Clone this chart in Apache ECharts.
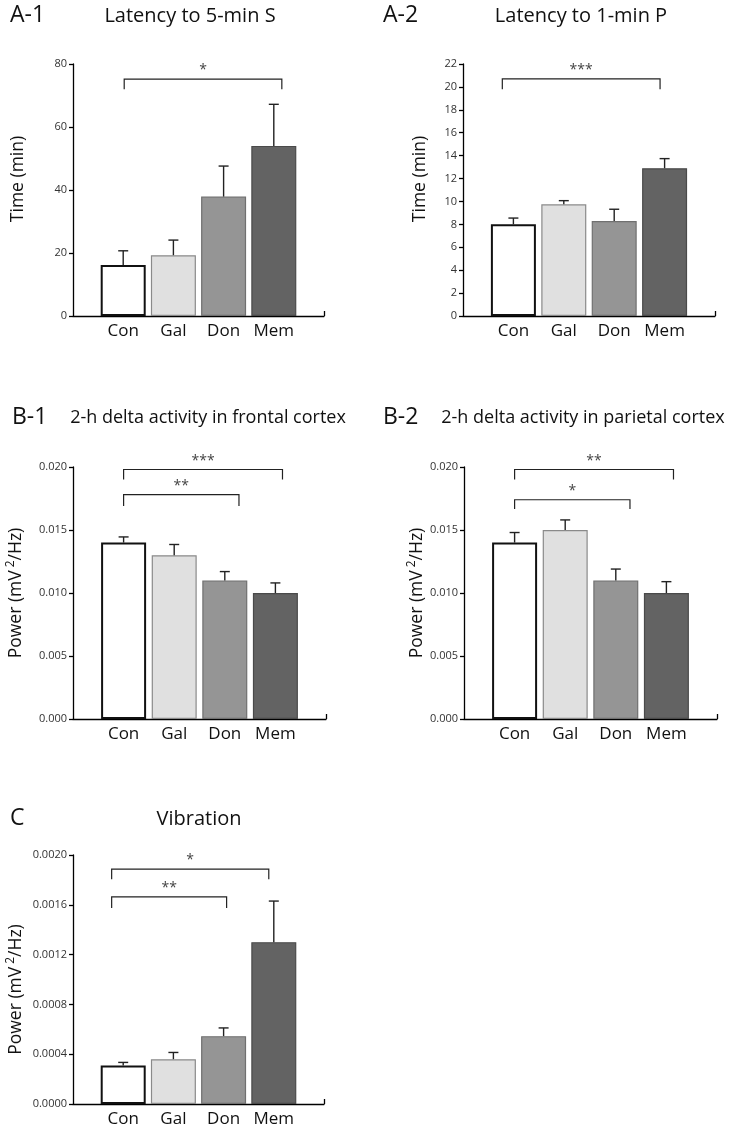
<!DOCTYPE html>
<html>
<head>
<meta charset="utf-8">
<script src="https://cdn.jsdelivr.net/npm/echarts@6/dist/echarts.min.js"></script>
<style>
  html, body { margin: 0; padding: 0; background: #fff; }
  #main { width: 731px; height: 1128px; }
</style>
</head>
<body>
<div id="main"></div>
<script>
const cats = ['Con', 'Gal', 'Don', 'Mem'];

// A-1 latency to 5-min S (min)
const a1Mean = [16.2, 19.3, 37.9, 54.0];
const a1Sem = [4.5, 4.8, 9.7, 13.2];
const a1Sig = [[0.02, 3.16, 75.2, 72.0]];
const a1Stars = ['*'];

// A-2 latency to 1-min P (min)
const a2Mean = [8.0, 9.75, 8.3, 12.9];
const a2Sem = [0.55, 0.32, 1.02, 0.84];
const a2Sig = [[-0.22, 2.91, 20.7, 19.8]];
const a2Stars = ['***'];

// B-1 frontal cortex delta power
const b1Mean = [0.0140, 0.0130, 0.0110, 0.0100];
const b1Sem = [0.00045, 0.00085, 0.0007, 0.0008];
const b1Sig = [[0.0, 3.14, 0.0198, 0.0190], [0.0, 2.28, 0.0178, 0.0169]];
const b1Stars = ['***', '**'];

// B-2 parietal cortex delta power
const b2Mean = [0.0140, 0.0150, 0.0110, 0.0100];
const b2Sem = [0.0008, 0.0008, 0.0009, 0.0009];
const b2Sig = [[0.0, 3.14, 0.0198, 0.0190], [0.0, 2.28, 0.0174, 0.01666]];
const b2Stars = ['**', '*'];

// C vibration
const cMean = [0.00031, 0.00036, 0.000545, 0.0013];
const cSem = [0.000024, 0.000054, 0.000066, 0.00033];
const cSig = [[-0.23, 2.90, 0.001886, 0.001806], [-0.23, 2.06, 0.001663, 0.001575]];
const cStars = ['*', '**'];

const barFill = ['#ffffff', '#e0e0e0', '#959595', '#636363'];
const barLine = ['#111111', '#8a8a8a', '#707070', '#4a4a4a'];
const barLineW = [2, 1.2, 1.2, 1.2];
const FONT = 'Open Sans';

const powerName = 'Power (mV{sup|2}/Hz)';

// namePad shifts the rotated axis name along the axis (left pad = up, right pad = down)
const panels = [
  { grid: { left: 73, top: 64, width: 251, height: 252 }, mean: a1Mean, sem: a1Sem, sig: a1Sig, stars: a1Stars,
    max: 80, interval: 20, digits: 0, name: 'Time (min)', nameGap: 46, namePad: [0, 0, 0, 22] },
  { grid: { left: 463, top: 64, width: 252, height: 252 }, mean: a2Mean, sem: a2Sem, sig: a2Sig, stars: a2Stars,
    max: 22, interval: 2, digits: 0, name: 'Time (min)', nameGap: 34, namePad: [0, 0, 0, 22] },
  { grid: { left: 73, top: 467, width: 253, height: 252 }, mean: b1Mean, sem: b1Sem, sig: b1Sig, stars: b1Stars,
    max: 0.02, interval: 0.005, digits: 3, name: powerName, nameGap: 46, namePad: [0, 0, 0, 0] },
  { grid: { left: 464, top: 467, width: 253, height: 252 }, mean: b2Mean, sem: b2Sem, sig: b2Sig, stars: b2Stars,
    max: 0.02, interval: 0.005, digits: 3, name: powerName, nameGap: 35, namePad: [0, 0, 0, 0] },
  { grid: { left: 73, top: 855, width: 251, height: 251 }, mean: cMean, sem: cSem, sig: cSig, stars: cStars,
    max: 0.002, interval: 0.0004, digits: 4, name: powerName, nameGap: 46, namePad: [0, 20, 0, 0] }
];

const headings = [
  { tag: 'A-1', tagX: 10, text: 'Latency to 5-min S', textX: 190, y: 15, size: 20 },
  { tag: 'A-2', tagX: 383, text: 'Latency to 1-min P', textX: 581, y: 15, size: 20 },
  { tag: 'B-1', tagX: 12, text: '2-h delta activity in frontal cortex', textX: 208, y: 417, size: 18 },
  { tag: 'B-2', tagX: 383, text: '2-h delta activity in parietal cortex', textX: 583, y: 417, size: 18 },
  { tag: 'C', tagX: 10, text: 'Vibration', textX: 199, y: 818, size: 20 }
];

function renderErr(params, api) {
  const x = api.value(0);
  const p0 = api.coord([x, api.value(1)]);
  const p1 = api.coord([x, api.value(2)]);
  const st = { stroke: '#222', lineWidth: 1.4 };
  return {
    type: 'group',
    children: [
      { type: 'line', shape: { x1: p0[0], y1: p0[1], x2: p1[0], y2: p1[1] }, style: st },
      { type: 'line', shape: { x1: p1[0] - 5, y1: p1[1], x2: p1[0] + 5, y2: p1[1] }, style: st }
    ]
  };
}

function bracketRenderer(labels) {
  return function (params, api) {
    const a = api.coord([api.value(0), api.value(2)]);
    const b = api.coord([api.value(1), api.value(2)]);
    const legY = api.coord([api.value(0), api.value(3)])[1];
    return {
      type: 'group',
      children: [
        { type: 'polyline', shape: { points: [[a[0], legY], [a[0], a[1]], [b[0], b[1]], [b[0], legY]] },
          style: { stroke: '#222', fill: null, lineWidth: 1.2 } },
        { type: 'text', x: (a[0] + b[0]) / 2, y: a[1] - 2,
          style: { text: labels[params.dataIndex], textAlign: 'center', textVerticalAlign: 'bottom',
                   fontSize: 14, fontFamily: FONT, fill: '#444' } }
      ]
    };
  };
}

const grids = [], xAxes = [], yAxes = [], series = [];
panels.forEach((p, k) => {
  grids.push(p.grid);
  xAxes.push({
    type: 'value', gridIndex: k, min: -1, max: 4,
    splitLine: { show: false },
    axisLine: { show: true, onZero: false, lineStyle: { color: '#000', width: 1.3 } },
    axisTick: { show: true, inside: true, length: 5, customValues: [4], lineStyle: { color: '#000', width: 1.3 } },
    axisLabel: {
      customValues: [0, 1, 2, 3], margin: 7,
      formatter: v => cats[Math.round(v)] || '',
      fontFamily: FONT, fontSize: 17, color: '#111'
    }
  });
  yAxes.push({
    type: 'value', gridIndex: k, min: 0, max: p.max, interval: p.interval,
    splitLine: { show: false },
    axisLine: { show: true, onZero: false, lineStyle: { color: '#000', width: 1.3 } },
    axisTick: { show: true, length: 4, lineStyle: { color: '#000', width: 1.3 } },
    axisLabel: {
      margin: 6, fontFamily: FONT, fontSize: 11, color: '#333',
      formatter: v => v.toFixed(p.digits)
    },
    name: p.name, nameLocation: 'middle', nameGap: p.nameGap,
    nameTextStyle: {
      fontFamily: FONT, fontSize: 17.5, color: '#111', padding: p.namePad,
      rich: { sup: { fontFamily: FONT, fontSize: 12, color: '#111', padding: [0, 0, 10, 3] } }
    }
  });
  series.push({
    type: 'bar', xAxisIndex: k, yAxisIndex: k, barWidth: 45,
    data: p.mean.map((m, i) => ({
      value: [i, m],
      itemStyle: { color: barFill[i], borderColor: barLine[i], borderWidth: barLineW[i] }
    })),
    z: 2
  });
  series.push({
    type: 'custom', xAxisIndex: k, yAxisIndex: k, renderItem: renderErr,
    encode: { x: 0, y: [1, 2] },
    data: p.mean.map((m, i) => [i, m, m + p.sem[i]]),
    z: 3
  });
  series.push({
    type: 'custom', xAxisIndex: k, yAxisIndex: k, renderItem: bracketRenderer(p.stars),
    encode: { x: [0, 1], y: [2, 3] },
    data: p.sig,
    z: 3
  });
});

const graphic = [];
headings.forEach(h => {
  graphic.push({ type: 'text', x: h.tagX, y: h.y,
    style: { text: h.tag, fontFamily: FONT, fontSize: 23, fill: '#111', textVerticalAlign: 'middle' } });
  graphic.push({ type: 'text', x: h.textX, y: h.y + 1,
    style: { text: h.text, fontFamily: FONT, fontSize: h.size, fill: '#111', textAlign: 'center', textVerticalAlign: 'middle' } });
});

const chart = echarts.init(document.getElementById('main'));
chart.setOption({
  backgroundColor: '#fff',
  animation: false,
  grid: grids,
  xAxis: xAxes,
  yAxis: yAxes,
  series: series,
  graphic: graphic
});
</script>
</body>
</html>
